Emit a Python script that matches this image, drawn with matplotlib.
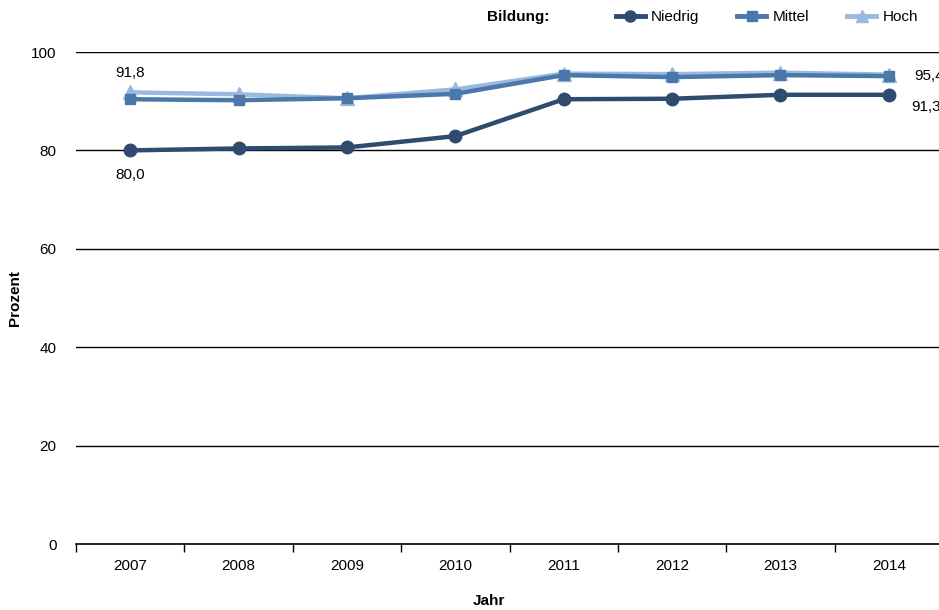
import numpy as np
import matplotlib.pyplot as plt
from matplotlib.lines import Line2D

plt.rcParams['font.family'] = ['Liberation Sans', 'DejaVu Sans']

jahre = ['2007', '2008', '2009', '2010', '2011', '2012', '2013', '2014']
niedrig = [80.0, 80.4, 80.6, 82.9, 90.4, 90.5, 91.3, 91.3]
mittel = [90.4, 90.2, 90.6, 91.5, 95.3, 94.9, 95.3, 95.1]
hoch = [91.8, 91.4, 90.6, 92.4, 95.6, 95.5, 95.8, 95.4]

farben = {'Niedrig': '#2f4b70', 'Mittel': '#4a78aa', 'Hoch': '#9ab9e0'}
fs = 11

fig = plt.figure(figsize=(9.39, 6.10), dpi=100)
ax = fig.add_axes([76/939, 1-544/610, (943-76)/939, (544-52)/610])

x = np.arange(len(jahre))
ax.set_ylim(0, 100)
ax.set_xlim(-0.5, len(jahre)-0.5)
for y in range(20, 101, 20):
    ax.axhline(y, color='black', lw=1, zorder=1)

ax.plot(x, hoch, color=farben['Hoch'], lw=3.2, marker='^', ms=10, zorder=3)
ax.plot(x, mittel, color=farben['Mittel'], lw=3.2, marker='s', ms=7, zorder=4)
ax.plot(x, niedrig, color=farben['Niedrig'], lw=3.2, marker='o', ms=9, zorder=5)

def fmt(v):
    return f'{v:.1f}'.replace('.', ',')

ax.annotate(fmt(hoch[0]), (x[0], hoch[0]), xytext=(0, 9), textcoords='offset points',
            ha='center', va='bottom', fontsize=fs)
ax.annotate(fmt(niedrig[0]), (x[0], niedrig[0]), xytext=(0, -13), textcoords='offset points',
            ha='center', va='top', fontsize=fs)
ax.annotate(fmt(hoch[-1]), (x[-1], hoch[-1]), xytext=(18, -1), textcoords='offset points',
            ha='left', va='center', fontsize=fs, annotation_clip=False)
ax.annotate(fmt(niedrig[-1]), (x[-1], niedrig[-1]), xytext=(16, -9), textcoords='offset points',
            ha='left', va='center', fontsize=fs, annotation_clip=False)

for s in ['top', 'right', 'left']:
    ax.spines[s].set_visible(False)
ax.spines['bottom'].set_linewidth(1.2)

ax.set_xticks(x)
ax.set_xticklabels(jahre, fontsize=fs)
ax.set_xticks(np.arange(-0.5, len(jahre)), minor=True)
ax.tick_params(axis='x', which='major', length=0, pad=11)
ax.tick_params(axis='x', which='minor', length=6, width=1, direction='out')
ax.set_yticks(range(0, 101, 20))
ax.tick_params(axis='y', length=0, labelsize=fs, pad=14)

fig.text(15/939, 1-298/610, 'Prozent', rotation=90, ha='center', va='center',
         fontsize=fs, fontweight='bold')
fig.text(489/939, 1-601/610, 'Jahr', ha='center', va='center', fontsize=fs, fontweight='bold')

fig.text(487/939, 1-17/610, 'Bildung:', ha='left', va='center', fontsize=fs, fontweight='bold')
handles = [
    Line2D([], [], color=farben['Niedrig'], lw=3.5, marker='o', ms=8),
    Line2D([], [], color=farben['Mittel'], lw=3.5, marker='s', ms=7),
    Line2D([], [], color=farben['Hoch'], lw=3.5, marker='^', ms=8),
]
fig.legend(handles, ['Niedrig', 'Mittel', 'Hoch'], loc='center left',
           bbox_to_anchor=(608/939, 1-17/610), ncol=3, frameon=False, fontsize=fs,
           handlelength=1.9, handletextpad=0.4, columnspacing=2.5, borderpad=0)

fig.savefig('out.png', dpi=100)
